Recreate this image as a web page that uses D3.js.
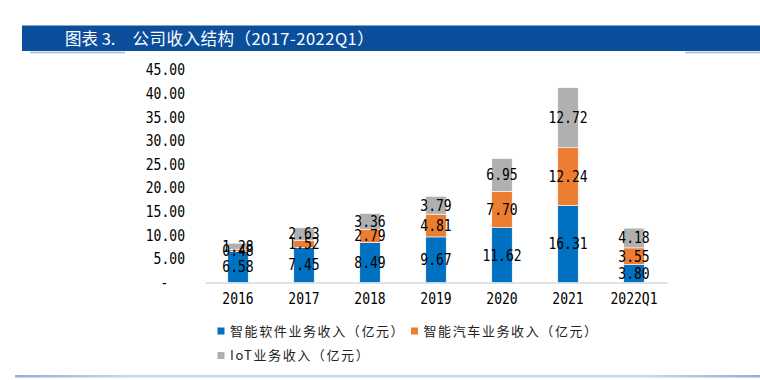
<!DOCTYPE html>
<html><head><meta charset="utf-8">
<script src="https://cdn.jsdelivr.net/npm/d3@7/dist/d3.min.js"></script>
<style>body{margin:0;background:#fff}svg{display:block}</style>
</head><body><svg id="c" width="760" height="380"></svg>
<script>
const categories = ["2016","2017","2018","2019","2020","2021","2022Q1"];
const software = [6.58,7.45,8.49,9.67,11.62,16.31,3.80];
const auto = [0.48,1.52,2.79,4.81,7.70,12.24,3.55];
const iot = [1.28,2.63,3.36,3.79,6.95,12.72,4.18];
const seriesNames = ["智能软件业务收入（亿元）","智能汽车业务收入（亿元）","IoT业务收入（亿元）"];
const seriesColors = ["#0070C0","#ED7D31","#B0B0B0"];
const yTicks = [0,5,10,15,20,25,30,35,40,45];
const yTickLabels = ["-","5.00","10.00","15.00","20.00","25.00","30.00","35.00","40.00","45.00"];
const titleParts = ["图表 3.","  公司收入结构（2017-2022Q1）"];

const svg = d3.select("#c");
const mono = "'DejaVu Sans Mono', monospace";
const cjk = "'Noto Sans CJK SC', 'Noto Sans', sans-serif";
const SX = 0.87, NUMFS = 15;

// title bar
svg.append("rect").attr("x",22).attr("y",25.5).attr("width",738).attr("height",25.5).attr("fill","#0B4F9C");
svg.append("line").attr("x1",30).attr("x2",125).attr("y1",52.5).attr("y2",52.5).attr("stroke","#9DBBE0").attr("stroke-width",1.5);
svg.append("line").attr("x1",685).attr("x2",760).attr("y1",52.5).attr("y2",52.5).attr("stroke","#9DBBE0").attr("stroke-width",1.5);
const tt = svg.append("text").attr("y",44.5).attr("fill","#fff").attr("font-family",cjk)
  .attr("font-size",16.5).attr("font-weight",400).attr("xml:space","preserve");
tt.append("tspan").attr("x",65).text(titleParts[0]);
tt.append("tspan").attr("x",124).attr("letter-spacing",0.5).text(titleParts[1]);

// bottom rule
const grad = svg.append("defs").append("linearGradient").attr("id","g1");
grad.append("stop").attr("offset","0").attr("stop-color","#8FB0D8");
grad.append("stop").attr("offset","0.15").attr("stop-color","#C5D7EE");
grad.append("stop").attr("offset","0.85").attr("stop-color","#C5D7EE");
grad.append("stop").attr("offset","1").attr("stop-color","#8FB0D8");
svg.append("rect").attr("x",15).attr("y",375).attr("width",745).attr("height",2.5).attr("fill","url(#g1)");

const y = d3.scaleLinear().domain([0,45]).range([282.6,70]);
const x = d3.scaleBand().domain(categories).range([205,667]).paddingInner(0.69).paddingOuter(0.345);

// y axis
const ya = svg.append("g").attr("transform","translate(185,0)")
  .call(d3.axisLeft(y).tickValues(yTicks).tickSize(0).tickPadding(0)
    .tickFormat((d,i)=>yTickLabels[i]));
ya.select(".domain").remove();
ya.selectAll("text").attr("font-family",mono).attr("font-size",NUMFS).attr("fill","#000")
  .attr("dx",(d)=> d===0 ? -19 : 0).attr("transform",`scale(${SX},1)`);

// x axis
const xa = svg.append("g").attr("transform","translate(0,282.6)")
  .call(d3.axisBottom(x).tickSize(0).tickSizeOuter(0).tickPadding(11));
xa.select(".domain").attr("stroke","#D9D9D9").attr("stroke-width",1.5);
xa.selectAll("text").attr("font-family",mono).attr("font-size",NUMFS).attr("fill","#000")
  .attr("transform",`scale(${SX},1)`);

// stacked bars
const rows = categories.map((c,i)=>({cat:c, s0:software[i], s1:auto[i], s2:iot[i]}));
const stack = d3.stack().keys(["s0","s1","s2"])(rows);
const g = svg.append("g");
stack.forEach((layer,li)=>{
  g.selectAll(null).data(layer).enter().append("rect")
    .attr("x",d=>x(d.data.cat)).attr("width",x.bandwidth())
    .attr("y",d=>y(d[1])).attr("height",d=>y(d[0])-y(d[1]))
    .attr("fill",seriesColors[li]).attr("stroke","#fff").attr("stroke-width",0.6);
});
stack.forEach((layer,li)=>{
  g.selectAll(null).data(layer).enter().append("text")
    .attr("transform",d=>`translate(${x(d.data.cat)+x.bandwidth()/2},${y((d[0]+d[1])/2)}) scale(${SX},1)`)
    .attr("dy","0.36em")
    .attr("text-anchor","middle").attr("font-family",mono).attr("font-size",NUMFS).attr("fill","#000")
    .text(d=>(d[1]-d[0]).toFixed(2));
});

// legend
const legPos = [[217.5,327.5],[411,327.5],[217.5,352]];
seriesNames.forEach((n,i)=>{
  const [lx,ly] = legPos[i];
  svg.append("rect").attr("x",lx).attr("y",ly).attr("width",7).attr("height",7).attr("fill",seriesColors[i]);
  svg.append("text").attr("x",lx+12.5).attr("y",ly+8).attr("font-family",cjk).attr("font-size",13)
    .attr("letter-spacing",1.6).attr("fill","#222").text(n);
});
</script></body></html>
